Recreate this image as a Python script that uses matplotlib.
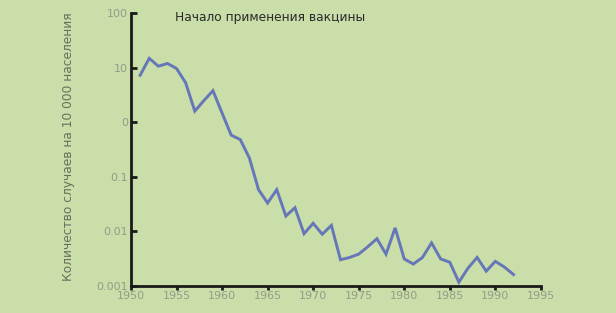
import numpy as np
import matplotlib
matplotlib.use('Agg')
import matplotlib.pyplot as plt
from matplotlib.ticker import FixedLocator, FixedFormatter, NullLocator

years = list(range(1951, 1993))
cases = [7.3, 14.9, 10.7, 12.0, 9.7, 5.3, 1.6, 2.5, 3.8, 1.47,
         0.58, 0.48, 0.22, 0.058, 0.033, 0.058, 0.019, 0.027, 0.009, 0.014,
         0.0088, 0.0128, 0.0030, 0.0033, 0.0038, 0.0052, 0.0073, 0.0038, 0.0115, 0.0031,
         0.0025, 0.0033, 0.0061, 0.0031, 0.0027, 0.00116, 0.0021, 0.0033, 0.00185, 0.0028,
         0.0022, 0.0016]

y_ticks = [0.001, 0.01, 0.1, 1, 10, 100]
y_labels = ['0.001', '0.01', '0.1', '0', '10', '100']
x_ticks = list(range(1950, 1996, 5))

bg = '#c9dea8'
fig = plt.figure(figsize=(6.16, 3.13), dpi=100, facecolor=bg)
ax = fig.add_axes([0.2127, 0.0872, 0.878 - 0.2127, 0.9575 - 0.0872])
ax.set_facecolor(bg)

ax.plot(years, cases, color='#6577b8', lw=2.1, solid_joinstyle='miter')

ax.set_yscale('log')
ax.set_ylim(0.001, 100)
ax.set_xlim(1950, 1995)
ax.yaxis.set_major_locator(FixedLocator(y_ticks))
ax.yaxis.set_major_formatter(FixedFormatter(y_labels))
ax.yaxis.set_minor_locator(NullLocator())
ax.set_xticks(x_ticks)

for s in ['top', 'right']:
    ax.spines[s].set_visible(False)
for s in ['left', 'bottom']:
    ax.spines[s].set_linewidth(2)
    ax.spines[s].set_color('#1a1a1a')

ax.tick_params(axis='y', direction='in', length=4, width=2, color='#1a1a1a',
               labelsize=8, labelcolor='#959c88', pad=2)
ax.tick_params(axis='x', direction='out', length=3, width=2, color='#1a1a1a',
               labelsize=8, labelcolor='#959c88', pad=1)

ax.set_ylabel('Количество случаев на 10 000 населения', fontsize=8.8,
              color='#68705c')
ax.yaxis.set_label_coords(-0.137, 0.51)

fig.text(175 / 616, 1 - 17 / 313, 'Начало применения вакцины', fontsize=8.8,
         color='#2a2a2a', va='center')

plt.savefig('out.png', dpi=100, facecolor=bg)
